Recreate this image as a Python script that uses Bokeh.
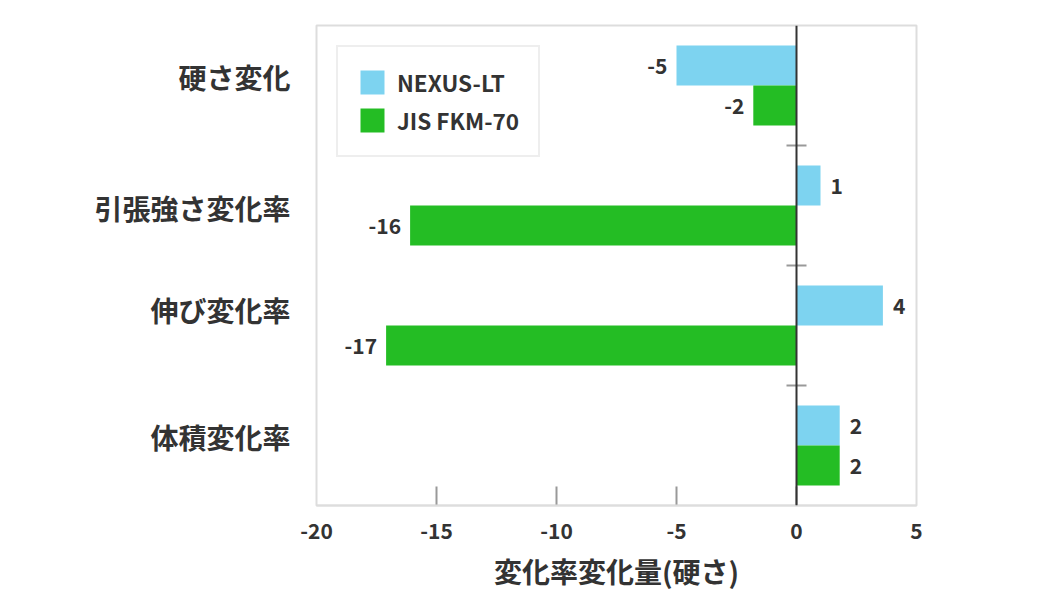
from bokeh.plotting import figure
from bokeh.models import (Range1d, FixedTicker, Span, ColumnDataSource,
                          Legend, LegendItem)
from bokeh.embed import file_html
from bokeh.resources import INLINE
from bokeh.core.properties import value

# ---- data ----
categories = ["硬さ変化", "引張強さ変化率", "伸び変化率", "体積変化率"]
series_names = ["NEXUS-LT", "JIS FKM-70"]
nexus_lt = [-5.0, 1.0, 3.6, 1.8]
jis_fkm70 = [-1.8, -16.1, -17.1, 1.8]
x_ticks = [-20, -15, -10, -5, 0, 5]
x_title = "変化率変化量(硬さ)"

# ---- style ----
FONT = "Noto Sans CJK JP"
C_NEXUS = "#7dd3f0"
C_JIS = "#24bd24"
TXT = "#333333"
FRAME_H = 480
X_MIN, X_MAX = -20, 5
TICK_LEN = 19
label_nudge = [-8, 2, -16, -8]  # vertical nudge of category labels (px)

n = len(categories)
centers = [i + 0.5 for i in range(n)]
bar_h = 1 / 3
px_per_unit = FRAME_H / n

p = figure(frame_width=600, frame_height=FRAME_H,
           x_range=Range1d(X_MIN, X_MAX), y_range=Range1d(n, 0),
           output_backend="svg", toolbar_location=None,
           min_border_left=316, min_border_top=25, min_border_right=110,
           min_border_bottom=70, background_fill_color="white",
           border_fill_color="white")
p.outline_line_color = "#dddddd"
p.outline_line_width = 2
p.xgrid.visible = False
p.ygrid.visible = False

# x axis
ax = p.xaxis[0]
ax.ticker = FixedTicker(ticks=x_ticks)
ax.major_label_overrides = {t: str(t) for t in x_ticks}
ax.axis_line_color = "#dddddd"
ax.axis_line_width = 2
ax.major_tick_line_color = None
ax.minor_tick_line_color = None
ax.major_label_text_font = FONT
ax.major_label_text_font_style = "bold"
ax.major_label_text_font_size = "21px"
ax.major_label_text_color = TXT
ax.major_label_standoff = 11
ax.axis_label = x_title
ax.axis_label_text_font = FONT
ax.axis_label_text_font_style = "bold"
ax.axis_label_text_font_size = "28px"
ax.axis_label_text_color = TXT
ax.axis_label_standoff = 9

# inward tick marks (interior ticks only)
inner = [t for t in x_ticks if X_MIN < t < X_MAX]
p.segment(x0=inner, x1=inner, y0=[n] * len(inner),
          y1=[n - TICK_LEN / px_per_unit] * len(inner),
          line_color="#999999", line_width=2)

# y axis (category labels)
ay = p.yaxis[0]
label_pos = [round(c + d / px_per_unit, 4) for c, d in zip(centers, label_nudge)]
ay.ticker = FixedTicker(ticks=label_pos)
ay.major_label_overrides = {pos: cat for pos, cat in zip(label_pos, categories)}
ay.axis_line_color = None
ay.major_tick_line_color = None
ay.minor_tick_line_color = None
ay.major_label_standoff = 20
ay.major_label_text_font = FONT
ay.major_label_text_font_style = "bold"
ay.major_label_text_font_size = "28px"
ay.major_label_text_color = TXT

y_nexus = [c - bar_h / 2 for c in centers]
y_jis = [c + bar_h / 2 for c in centers]

r1 = p.hbar(y=y_nexus, left=0, right=nexus_lt, height=bar_h,
            fill_color=C_NEXUS, line_color=None)
r2 = p.hbar(y=y_jis, left=0, right=jis_fkm70, height=bar_h,
            fill_color=C_JIS, line_color=None)

# value labels
vals = nexus_lt + jis_fkm70
ys = y_nexus + y_jis
vsrc = ColumnDataSource(dict(
    x=vals, y=ys,
    t=[str(int(round(v))) for v in vals],
    align=["right" if v < 0 else "left" for v in vals],
    xo=[-9 if v < 0 else 10 for v in vals],
))
p.text(x="x", y="y", text="t", text_align="align", x_offset="xo",
       text_baseline="middle", text_font=value(FONT), text_font_style="bold",
       text_font_size="21px", text_color=TXT, source=vsrc)

# zero line
p.add_layout(Span(location=0, dimension="height", line_color=TXT, line_width=2))

# category separator ticks on the zero axis
p.scatter(x=[0] * (n - 1), y=list(range(1, n)), marker="dash", size=20,
          line_color="#999999", line_width=2)

legend = Legend(items=[LegendItem(label=series_names[0], renderers=[r1]),
                       LegendItem(label=series_names[1], renderers=[r2])],
                location="top_left", margin=20, padding=19, spacing=6,
                glyph_width=30, glyph_height=30, label_standoff=10,
                label_text_font=FONT, label_text_font_style="bold",
                label_text_font_size="22.5px", label_text_color=TXT,
                border_line_color="#dddddd", border_line_width=2,
                background_fill_color="white", background_fill_alpha=1)
p.add_layout(legend)

open("out.html", "w").write(file_html(p, INLINE))
